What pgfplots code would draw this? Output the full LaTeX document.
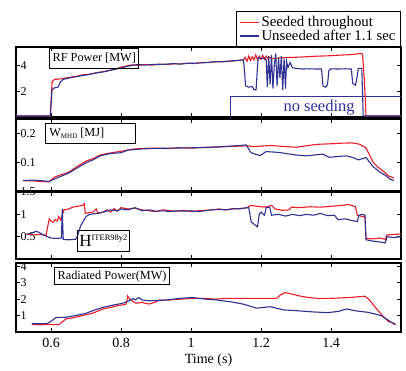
\documentclass[border=0pt]{standalone}
\usepackage{pgfplots}
\pgfplotsset{compat=1.18}
\usepackage{fontspec}
\setmainfont{Liberation Serif}
\definecolor{rc}{RGB}{237,28,36}
\definecolor{bc}{RGB}{46,49,146}
\pgfplotsset{
 panel/.style={scale only axis, width=385pt, xmin=0.5, xmax=1.6,
   xtick={0.6,0.8,1,1.2,1.4}, xticklabels={},
   tick align=inside, major tick length=4pt,
   axis line style={line width=1.2pt},
   every tick/.style={black, line width=0.9pt},
   /pgf/number format/assume math mode=true,
   /pgf/number format/fixed,
   yticklabel style={anchor=west, xshift=1.5pt, font=\fontsize{12}{12}\selectfont, inner sep=3pt},
   every axis plot/.append style={line width=1.1pt},
 },
}
\tikzset{lbl/.style={draw=black, line width=1pt, font=\fontsize{12.3}{12.3}\selectfont, inner xsep=3pt, inner ysep=0pt, anchor=north west}}
\begin{document}
\begin{tikzpicture}[x=1pt,y=1pt]
\useasboundingbox (0,0) rectangle (406,370);
% Panel 1: RF power
\begin{axis}[panel, at={(16pt,253pt)}, anchor=south west, height=70pt,
  ymin=0, ymax=5.4, ytick={2,4},
  legend style={at={(rel axis cs:1,1)}, anchor=south east, draw=black, line width=1pt,
    font=\fontsize{14.8}{16}\selectfont, inner xsep=3pt, inner ysep=2.5pt, row sep=-2pt,
    /tikz/every odd column/.append style={column sep=0pt}},
  legend cell align=left,
  legend image code/.code={\draw[#1, line width=1.2pt] (0pt,0pt) -- (19pt,0pt);},
]
\draw[bc, line width=0.7pt] (axis cs:1.111,1.6) rectangle (axis cs:1.65,-0.5);
\node[bc, font=\fontsize{16.5}{16.5}\selectfont] at (axis cs:1.366,0.72) {no seeding};
\addplot[rc] coordinates {(0.50,0.08)(0.598,0.08)(0.603,2.7)(0.61,2.9)(0.63,2.95)(0.65,3.05)(0.67,3.12)(0.69,3.25)(0.71,3.3)(0.73,3.42)(0.75,3.5)(0.77,3.62)(0.79,3.75)(0.80,3.85)(0.81,3.9)(0.83,4.02)(0.85,3.98)(0.87,4.05)(0.89,4.0)(0.91,4.08)(0.93,4.05)(0.95,4.1)(0.97,4.1)(0.99,4.15)(1.01,4.12)(1.03,4.2)(1.05,4.22)(1.07,4.25)(1.09,4.28)(1.11,4.3)(1.13,4.35)(1.15,4.4)(1.155,4.6)(1.16,4.3)(1.165,4.7)(1.17,4.35)(1.175,4.65)(1.18,4.4)(1.185,4.8)(1.19,4.4)(1.195,4.7)(1.2,4.45)(1.205,4.75)(1.21,4.45)(1.215,4.7)(1.22,4.5)(1.225,4.6)(1.23,4.5)(1.25,4.55)(1.27,4.58)(1.29,4.6)(1.31,4.62)(1.33,4.65)(1.35,4.68)(1.37,4.7)(1.39,4.72)(1.41,4.75)(1.43,4.78)(1.45,4.8)(1.47,4.85)(1.485,4.9)(1.49,4.85)(1.495,3.0)(1.50,0.08)(1.6,0.08)};
\addlegendentry{Seeded throughout}
\addplot[bc] coordinates {(0.50,0.08)(0.598,0.08)(0.603,2.1)(0.61,2.25)(0.62,2.3)(0.627,2.7)(0.635,2.9)(0.65,3.0)(0.67,3.1)(0.69,3.2)(0.71,3.28)(0.73,3.4)(0.75,3.48)(0.77,3.6)(0.79,3.72)(0.81,3.85)(0.83,3.98)(0.85,4.05)(0.87,4.0)(0.89,4.06)(0.91,4.05)(0.93,4.08)(0.95,4.12)(0.97,4.08)(0.99,4.14)(1.01,4.15)(1.03,4.18)(1.05,4.2)(1.07,4.28)(1.09,4.25)(1.11,4.32)(1.13,4.36)(1.15,4.4)(1.153,3.5)(1.156,2.4)(1.165,2.3)(1.175,2.35)(1.18,2.1)(1.186,2.1)(1.189,3.5)(1.192,4.6)(1.2,4.5)(1.21,4.55)(1.215,4.4)(1.218,2.3)(1.222,4.7)(1.226,2.5)(1.23,4.8)(1.234,2.2)(1.238,4.0)(1.242,4.9)(1.246,2.4)(1.25,4.6)(1.254,3.0)(1.258,4.7)(1.262,2.1)(1.266,4.5)(1.27,2.2)(1.273,4.3)(1.277,3.8)(1.283,4.2)(1.29,3.8)(1.3,3.75)(1.32,3.7)(1.34,3.72)(1.36,3.7)(1.373,3.7)(1.377,2.4)(1.385,2.3)(1.39,2.5)(1.394,3.6)(1.4,3.72)(1.42,3.7)(1.44,3.72)(1.458,3.7)(1.462,2.6)(1.47,2.45)(1.474,3.0)(1.478,3.75)(1.488,3.75)(1.492,0.08)(1.6,0.08)};
\addlegendentry{Unseeded after 1.1 sec}
\node[lbl, minimum height=20pt] at (rel axis cs:0.086,0.985) {RF Power [MW]};
\end{axis}
% Panel 2: W_MHD
\begin{axis}[panel, at={(16pt,179pt)}, anchor=south west, height=72pt,
  ymin=0, ymax=0.25, ytick={0.1,0.2}]
\addplot[rc] coordinates {(0.52,0.036)(0.55,0.035)(0.57,0.033)(0.594,0.032)(0.61,0.048)(0.625,0.055)(0.65,0.065)(0.675,0.085)(0.7,0.104)(0.72,0.112)(0.74,0.125)(0.76,0.13)(0.79,0.136)(0.81,0.14)(0.83,0.145)(0.86,0.148)(0.9,0.149)(0.93,0.147)(0.96,0.15)(1.0,0.149)(1.04,0.152)(1.08,0.153)(1.12,0.155)(1.16,0.157)(1.18,0.154)(1.2,0.156)(1.23,0.158)(1.26,0.155)(1.3,0.152)(1.33,0.157)(1.36,0.162)(1.4,0.164)(1.43,0.166)(1.46,0.167)(1.48,0.163)(1.5,0.15)(1.51,0.125)(1.52,0.1)(1.535,0.082)(1.55,0.068)(1.565,0.052)(1.58,0.045)};
\addplot[bc] coordinates {(0.52,0.036)(0.55,0.038)(0.58,0.035)(0.594,0.033)(0.62,0.047)(0.65,0.062)(0.675,0.08)(0.7,0.098)(0.72,0.108)(0.74,0.122)(0.77,0.13)(0.8,0.133)(0.82,0.142)(0.86,0.146)(0.9,0.148)(0.95,0.149)(1.0,0.15)(1.05,0.151)(1.1,0.155)(1.14,0.158)(1.158,0.16)(1.17,0.135)(1.178,0.13)(1.197,0.123)(1.215,0.137)(1.25,0.134)(1.3,0.125)(1.33,0.122)(1.36,0.126)(1.377,0.128)(1.395,0.117)(1.42,0.12)(1.445,0.122)(1.465,0.115)(1.478,0.108)(1.5,0.116)(1.52,0.085)(1.54,0.065)(1.555,0.055)(1.57,0.04)(1.58,0.037)};
\node[lbl, minimum height=20pt, minimum width=90pt] at (rel axis cs:0.075,0.944) {\makebox[82pt][l]{W\raisebox{-0.35ex}{\fontsize{7}{7}\selectfont MHD} [MJ]}};
\end{axis}
% Panel 3: H98
\begin{axis}[panel, at={(16pt,111pt)}, anchor=south west, height=67pt,
  ymin=0, ymax=1.5, ytick={0.5,1,1.5}]
\addplot[rc] coordinates {(0.53,0.56)(0.55,0.54)(0.57,0.55)(0.586,0.53)(0.59,0.7)(0.595,0.9)(0.6,0.85)(0.605,0.82)(0.612,0.88)(0.618,0.85)(0.622,0.95)(0.628,0.87)(0.633,1.0)(0.637,1.1)(0.65,1.12)(0.662,1.16)(0.675,1.18)(0.69,1.2)(0.695,1.24)(0.698,1.02)(0.71,1.04)(0.72,1.05)(0.729,1.12)(0.735,1.02)(0.748,1.05)(0.76,1.1)(0.77,1.05)(0.78,1.13)(0.79,1.07)(0.8,1.15)(0.82,1.12)(0.84,1.14)(0.86,1.1)(0.88,1.08)(0.9,1.06)(0.92,1.1)(0.94,1.08)(0.96,1.07)(0.98,1.09)(1.0,1.06)(1.02,1.08)(1.04,1.09)(1.06,1.1)(1.08,1.12)(1.1,1.1)(1.12,1.13)(1.14,1.12)(1.16,1.15)(1.17,1.2)(1.19,1.18)(1.21,1.16)(1.23,1.2)(1.24,1.12)(1.26,1.09)(1.28,1.1)(1.286,1.16)(1.31,1.15)(1.34,1.17)(1.37,1.16)(1.4,1.18)(1.43,1.2)(1.45,1.22)(1.47,1.17)(1.475,0.98)(1.49,0.95)(1.497,0.94)(1.5,0.46)(1.52,0.45)(1.54,0.47)(1.555,0.44)(1.56,0.54)(1.58,0.55)(1.6,0.56)};
\addplot[bc] coordinates {(0.53,0.55)(0.545,0.58)(0.557,0.62)(0.565,0.6)(0.58,0.53)(0.59,0.5)(0.6,0.47)(0.615,0.46)(0.63,0.47)(0.632,1.12)(0.635,0.44)(0.65,0.43)(0.67,0.44)(0.675,0.5)(0.685,0.75)(0.7,0.95)(0.71,1.0)(0.73,1.02)(0.75,1.05)(0.77,1.1)(0.79,1.08)(0.8,1.12)(0.82,1.1)(0.84,1.15)(0.86,1.08)(0.88,1.1)(0.9,1.07)(0.92,1.08)(0.94,1.06)(0.96,1.08)(0.98,1.07)(1.0,1.08)(1.02,1.06)(1.04,1.08)(1.06,1.1)(1.08,1.11)(1.1,1.1)(1.12,1.12)(1.14,1.13)(1.165,1.15)(1.172,0.83)(1.185,0.75)(1.19,0.72)(1.195,1.0)(1.2,1.05)(1.21,0.98)(1.215,1.15)(1.225,1.16)(1.23,0.98)(1.25,1.0)(1.27,0.96)(1.29,1.0)(1.31,0.97)(1.33,1.0)(1.35,0.98)(1.37,1.02)(1.39,0.97)(1.41,0.98)(1.42,0.88)(1.44,0.9)(1.46,0.86)(1.475,0.84)(1.48,0.98)(1.49,1.0)(1.497,0.98)(1.5,0.43)(1.52,0.4)(1.54,0.38)(1.555,0.36)(1.56,0.5)(1.58,0.48)(1.6,0.5)};
\node[lbl, inner xsep=2pt, minimum height=21pt, anchor=south west] at (rel axis cs:0.158,0.104) {\fontsize{17}{17}\selectfont H\raisebox{0.75ex}{\fontsize{8.5}{8.5}\selectfont ITER98y2}};
\end{axis}
% Panel 4: radiated power
\begin{axis}[panel, at={(16pt,38pt)}, anchor=south west, height=69pt,
  ymin=0, ymax=4.2, ytick={1,2,3,4},
  xticklabels={0.6,0.8,1,1.2,1.4},
  xticklabel style={font=\fontsize{14}{14}\selectfont, yshift=-2.5pt},
  xlabel={Time (s)}, xlabel style={font=\fontsize{14}{14}\selectfont, yshift=1pt}]
\addplot[rc] coordinates {(0.545,0.45)(0.57,0.44)(0.59,0.46)(0.61,0.45)(0.623,0.45)(0.643,0.8)(0.66,0.85)(0.68,0.95)(0.7,1.05)(0.72,1.15)(0.748,1.4)(0.77,1.5)(0.79,1.6)(0.805,1.65)(0.815,1.7)(0.819,2.2)(0.825,2.0)(0.835,1.85)(0.843,1.75)(0.86,1.8)(0.88,1.7)(0.895,1.8)(0.909,1.93)(0.94,1.95)(0.97,2.0)(1.005,2.05)(1.04,2.05)(1.07,2.0)(1.1,2.05)(1.15,2.05)(1.2,2.05)(1.245,2.05)(1.255,2.25)(1.269,2.4)(1.29,2.3)(1.311,2.19)(1.33,2.12)(1.359,2.05)(1.4,2.05)(1.454,2.1)(1.497,2.18)(1.51,1.95)(1.521,1.65)(1.545,1.04)(1.564,0.64)(1.584,0.5)};
\addplot[bc] coordinates {(0.545,0.5)(0.57,0.5)(0.59,0.52)(0.6,0.65)(0.614,0.88)(0.643,0.9)(0.67,1.0)(0.7,1.14)(0.72,1.3)(0.748,1.5)(0.78,1.65)(0.805,1.75)(0.823,1.9)(0.835,2.05)(0.84,1.95)(0.851,2.1)(0.86,1.95)(0.88,1.9)(0.929,1.95)(0.97,2.05)(1.005,2.1)(1.04,2.0)(1.071,1.95)(1.11,1.85)(1.149,1.7)(1.188,1.45)(1.226,1.54)(1.266,1.34)(1.3,1.3)(1.35,1.22)(1.39,1.18)(1.42,1.25)(1.445,1.4)(1.473,1.28)(1.505,1.2)(1.525,1.1)(1.545,0.98)(1.565,0.7)(1.584,0.43)};
\node[lbl, minimum height=17pt, anchor=north west] at (rel axis cs:0.099,0.94) {Radiated Power(MW)};
\end{axis}
\end{tikzpicture}
\end{document}
